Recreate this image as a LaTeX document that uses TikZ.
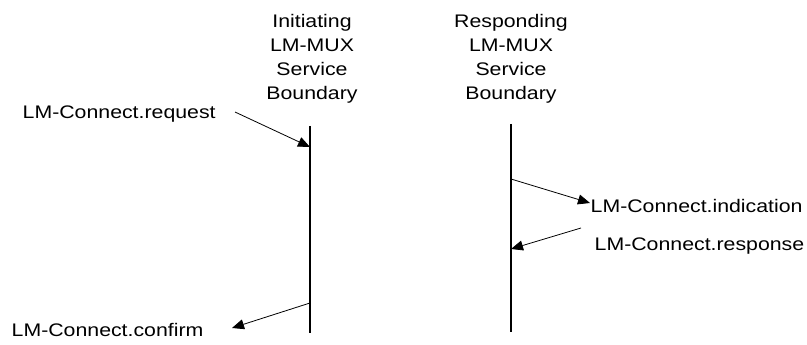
\documentclass[tikz,border=0pt]{standalone}
\usepackage{fontspec}
\setmainfont{Liberation Sans}[FakeStretch=1.17]
\usepackage{tikz}
\usetikzlibrary{positioning,arrows.meta}

\begin{document}
\begin{tikzpicture}[x=1pt,y=-1pt,every node/.style={inner sep=0pt,font=\fontsize{18.2}{24}\selectfont},msg/.style={-{Triangle[length=12pt,width=10pt]},line width=0.8pt},bound/.style={line width=2.5pt}]
\useasboundingbox (0,0) rectangle (807,345);
\node[align=center,anchor=north] (ini) at (312,14) {Initiating\\LM-MUX\\Service\\Boundary};
\node[align=center,anchor=north] (res) at (511,14) {Responding\\LM-MUX\\Service\\Boundary};
\coordinate (iT) at (310,126); \coordinate (iB) at (310,333);
\coordinate (rT) at (511,124); \coordinate (rB) at (511,332);
\draw[bound](iT)--(iB);
\draw[bound](rT)--(rB);
\node[anchor=base west] (req) at (22.5,118) {LM-Connect.request};
\node[anchor=base west] (cnf) at (11.5,336) {LM-Connect.confirm};
\node[anchor=base west] (ind) at (590.5,212) {LM-Connect.indication};
\node[anchor=base west] (rsp) at (594.5,250) {LM-Connect.response};
\coordinate (reqS) at (235,112); \coordinate (reqE) at (310,147);
\coordinate (cnfS) at (310,303); \coordinate (cnfE) at (232,328);
\coordinate (indS) at (511,179); \coordinate (indE) at (590,203);
\coordinate (rspS) at (581,228); \coordinate (rspE) at (511,249);
\draw[msg](reqS)--(reqE);
\draw[msg](cnfS)--(cnfE);
\draw[msg](indS)--(indE);
\draw[msg](rspS)--(rspE);
\end{tikzpicture}
\end{document}
